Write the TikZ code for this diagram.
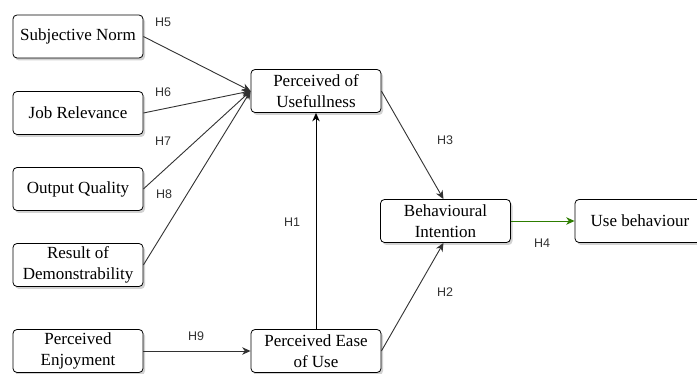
\documentclass[tikz,border=0pt]{standalone}
\usepackage{fontspec}
\setmainfont{Liberation Serif}
\newfontfamily\labelfont{Liberation Sans}
\usetikzlibrary{arrows.meta,shadows}
\definecolor{linegray}{RGB}{50,50,50}
\definecolor{arrowgreen}{RGB}{45,125,0}
\begin{document}
\begin{tikzpicture}[x=1pt,y=-1pt,
  box/.style={draw=black, line width=0.8pt, rounded corners=4pt, fill=white,
    minimum width=130pt, minimum height=43pt, align=center, inner sep=2pt,
    font=\fontsize{17}{21.5}\selectfont,
    drop shadow={shadow xshift=2pt, shadow yshift=-2.5pt, opacity=0.35, fill=gray}},
  conn/.style={draw=linegray, line width=0.9pt, -{Stealth[length=8.5pt,width=7.5pt]}},
  hlab/.style={font=\labelfont\fontsize{12.5}{14}\selectfont, text=black!80, inner sep=0pt}]
\useasboundingbox (0,0) rectangle (697,374);
\fill[white] (0,0) rectangle (697,374);
% nodes
\node[box] (sn) at (78,36.5) {Subjective Norm};
\node[box] (jr) at (78,113) {Job Relevance};
\node[box] (oq) at (78,189) {Output Quality};
\node[box] (rd) at (78,265) {Result of\\Demonstrability};
\node[box] (pe) at (78,351) {Perceived\\Enjoyment};
\node[box] (pu) at (316,91) {Perceived of\\Usefullness};
\node[box] (peu) at (316,351) {Perceived Ease\\of Use};
\node[box] (bi) at (445.5,221) {Behavioural\\Intention};
\node[box] (ub) at (640,221) {Use behaviour};
% connectors
\draw[conn] (sn.east) -- (pu.west);
\draw[conn] (jr.east) -- (pu.west);
\draw[conn] (oq.east) -- (pu.west);
\draw[conn] (rd.east) -- (pu.west);
\draw[conn] (pe.east) -- (peu.west);
\draw[conn,draw=black] (peu.north) -- (pu.south);
\draw[conn] (pu.east) -- ([xshift=-2pt]bi.north);
\draw[conn] (peu.east) -- ([xshift=-2pt]bi.south);
\draw[conn,draw=arrowgreen] (bi.east) -- (ub.west);
% labels
\node[hlab] (h5) at (163,22) {H5};
\node[hlab] (h6) at (163,92) {H6};
\node[hlab] (h7) at (163,141) {H7};
\node[hlab] (h8) at (164,194) {H8};
\node[hlab] (h9) at (196,336) {H9};
\node[hlab] (h1) at (292,222) {H1};
\node[hlab] (h2) at (445,292) {H2};
\node[hlab] (h3) at (445,140) {H3};
\node[hlab] (h4) at (542,243) {H4};
\end{tikzpicture}
\end{document}
